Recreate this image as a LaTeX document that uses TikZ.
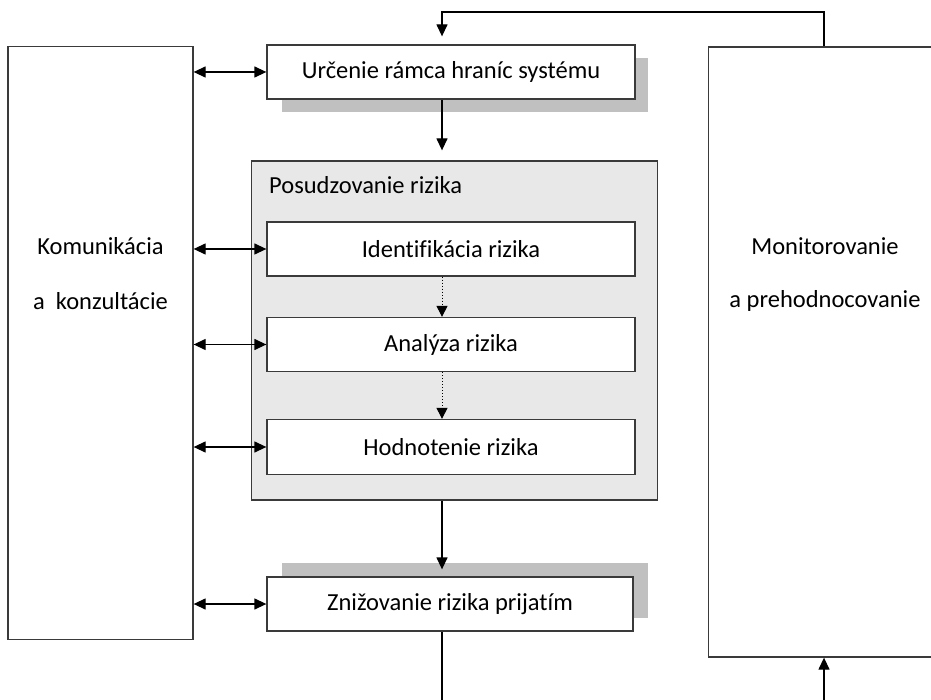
\documentclass[tikz,border=0pt]{standalone}
\usepackage{fontspec}
\setmainfont[Ligatures=NoCommon]{Carlito}
\usetikzlibrary{arrows.meta,calc}
\definecolor{ln}{HTML}{3A3A3A}
\definecolor{shadowgray}{HTML}{C0C0C0}
\definecolor{panelgray}{HTML}{E8E8E8}
\newcommand{\lblfont}{\fontsize{24.5}{29}\selectfont}
\tikzset{
  box/.style={draw=ln,line width=1.3pt,fill=white,rectangle,inner sep=0pt,font=\lblfont},
  lbl/.style={font=\lblfont,inner sep=0pt},
  conn/.style={draw=black,line width=1.3pt,-{Triangle[length=12pt,width=11pt]}},
  biconn/.style={draw=black,line width=1.3pt,{Triangle[length=12pt,width=11pt]}-{Triangle[length=12pt,width=11pt]}},
  dotconn/.style={draw=black,line width=1pt,dotted,-{Triangle[length=11pt,width=11pt]}},
  plain/.style={draw=black,line width=1.3pt},
}
\begin{document}
\begin{tikzpicture}[x=1pt,y=-1pt]
\useasboundingbox (0,0) rectangle (931,700);
\begin{scope}
\clip (0,0) rectangle (931,700);
% shadows
\fill[shadowgray] (282,58) rectangle (648,112);
\fill[shadowgray] (282,563) rectangle (648,618);
% panel
\node[box,fill=panelgray,minimum width=406pt,minimum height=339pt] (panel) at (454.5,330.5) {};
\node[lbl,anchor=west] (ptitle) at (269,185) {Posudzovanie rizika};
% boxes
\node[box,minimum width=368pt,minimum height=54pt] (top) at (451,72) {Určenie rámca hraníc systému};
\node[box,minimum width=368pt,minimum height=54pt] (ident) at (451,249) {Identifikácia rizika};
\node[box,minimum width=368pt,minimum height=54pt] (anal) at (451,344.5) {Analýza rizika};
\node[box,minimum width=368pt,minimum height=55pt] (hod) at (451,447) {Hodnotenie rizika};
\node[box,minimum width=366pt,minimum height=54pt] (zniz) at (450,604) {Znižovanie rizika prijatím};
\node[box,minimum width=185pt,minimum height=593pt] (kom) at (100.5,343) {};
\node[lbl] (komt1) at (100.5,246) {Komunikácia};
\node[lbl] (komt2) at (100.5,301) {a\ \ konzultácie};
\node[box,minimum width=280pt,minimum height=610pt,anchor=west] (mon) at (707.5,352) {};
\node[lbl] (mont1) at (825,246) {Monitorovanie};
\node[lbl] (mont2) at (825,301) {a prehodnocovanie};
% coordinates
\coordinate (ax) at (442,0);
\coordinate (mx) at (824,0);
\coordinate (topline) at (0,12);
\coordinate (botA) at (442,700);
\coordinate (botB) at (824,700);
% connectors
\draw[conn,shorten >=8pt] (mon.north -| mx) |- (topline -| ax) -- (top.north -| ax);
\draw[conn,shorten >=10pt] (top.south -| ax) -- (panel.north -| ax);
\draw[dotconn] (ident.south -| ax) -- (anal.north -| ax);
\draw[dotconn] (anal.south -| ax) -- (hod.north -| ax);
\draw[conn,shorten >=7pt] (panel.south -| ax) -- (zniz.north -| ax);
\draw[plain] (zniz.south -| ax) -- (botA);
\draw[conn] (botB) -- (mon.south -| mx);
\draw[biconn] (kom.east |- top.west) -- (top.west);
\draw[biconn] (kom.east |- ident.west) -- (ident.west);
\draw[biconn] (kom.east |- anal.west) -- (anal.west);
\draw[biconn] (kom.east |- hod.west) -- (hod.west);
\draw[biconn] (kom.east |- zniz.west) -- (zniz.west);
\end{scope}
\end{tikzpicture}
\end{document}
